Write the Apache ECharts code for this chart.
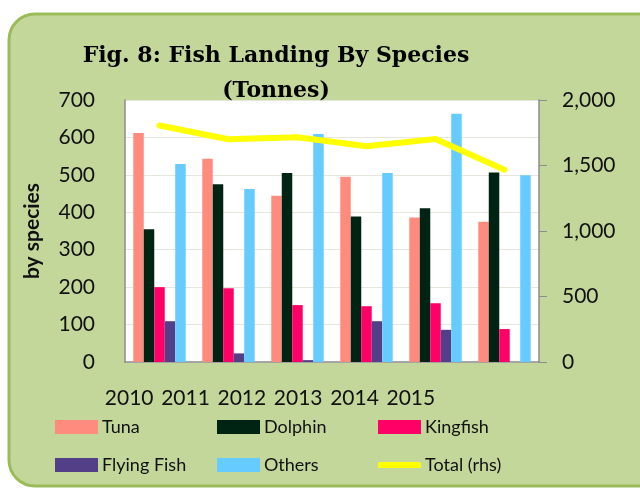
<!DOCTYPE html>
<html>
<head>
<meta charset="utf-8">
<script src="https://cdn.jsdelivr.net/npm/echarts@6/dist/echarts.min.js"></script>
<style>
  html, body { margin: 0; padding: 0; background: #fff; }
  #chart { width: 640px; height: 489px; }
</style>
</head>
<body>
<div id="chart"></div>
<script>
const years = ['2010', '2011', '2012', '2013', '2014', '2015']
const tuna = [612, 543, 444, 495, 386, 375]
const dolphin = [355, 475, 505, 389, 411, 506]
const kingfish = [200, 197, 152, 149, 157, 88]
const flyingFish = [109, 23, 5, 109, 86, 0]
const others = [529, 462, 609, 505, 663, 499]
const total = [1805, 1700, 1715, 1647, 1703, 1468]

const font = 'Lato'
const chart = echarts.init(document.getElementById('chart'))

const bar = (name, data, color) => ({
  name: name,
  type: 'bar',
  data: data,
  barGap: '0%',
  barCategoryGap: '24%',
  itemStyle: { color: color },
  emphasis: { disabled: true }
})

// one legend per entry so the three columns line up like the original
const legendAt = (name, left, top, extra) => Object.assign({
  data: [name],
  left: left,
  top: top,
  itemWidth: 43,
  itemHeight: 14,
  itemGap: 4,
  icon: 'rect',
  textStyle: { fontFamily: font, fontSize: 18, color: '#111', padding: [0, 0, 0, -1] }
}, extra || {})

chart.setOption({
  animation: false,
  graphic: [{
    type: 'rect',
    z: -10,
    shape: { x: 9, y: 14, width: 660, height: 472, r: 26 },
    style: { fill: '#c4d79b', stroke: '#9bbb59', lineWidth: 3 }
  }],
  title: {
    text: 'Fig. 8: Fish Landing By Species\n(Tonnes)',
    left: 271,
    top: 34,
    textAlign: 'center',
    textStyle: {
      fontFamily: 'DejaVu Serif',
      fontWeight: 'bold',
      fontSize: 22,
      lineHeight: 35,
      color: '#000'
    }
  },
  legend: [
    legendAt('Tuna', 50, 413),
    legendAt('Dolphin', 212, 413),
    legendAt('Kingfish', 373, 413),
    legendAt('Flying Fish', 50, 451),
    legendAt('Others', 212, 451),
    legendAt('Total (rhs)', 373, 451, { icon: 'roundRect', itemHeight: 6 })
  ],
  grid: [
    { left: 125, top: 100, width: 414, height: 262, backgroundColor: '#fff', show: true, borderWidth: 0 },
    { left: 101, top: 100, width: 338, height: 262 }
  ],
  xAxis: [{
    type: 'category',
    gridIndex: 0,
    data: years,
    axisLine: { lineStyle: { color: '#8c8c8c', width: 1.5 } },
    axisTick: { show: false },
    axisLabel: { show: false }
  }, {
    // the year labels sit a little left of the bars in the original
    type: 'category',
    gridIndex: 1,
    data: years,
    axisLine: { show: false },
    axisTick: { show: false },
    axisLabel: { fontFamily: font, fontSize: 21, color: '#111', margin: 26, interval: 0 }
  }],
  yAxis: [{
    type: 'value',
    gridIndex: 0,
    min: 0,
    max: 700,
    interval: 100,
    name: 'by species',
    nameLocation: 'middle',
    nameGap: 82,
    nameTextStyle: { fontFamily: font, fontSize: 21, fontWeight: 'bold', color: '#111' },
    axisLine: { show: true, lineStyle: { color: '#8c8c8c', width: 1.5 } },
    axisTick: { show: false },
    axisLabel: { fontFamily: font, fontSize: 21, color: '#111', margin: 30 },
    splitLine: { lineStyle: { color: '#e6e6dc', width: 1 } }
  }, {
    type: 'value',
    gridIndex: 0,
    position: 'right',
    min: 0,
    max: 2000,
    interval: 500,
    axisLine: { show: true, lineStyle: { color: '#8c8c8c', width: 1.5 } },
    axisTick: { show: true, inside: false, length: 8, lineStyle: { color: '#8c8c8c' } },
    axisLabel: {
      fontFamily: font, fontSize: 21, color: '#111', margin: 23,
      formatter: v => v.toLocaleString('en-US')
    },
    splitLine: { show: false }
  }, {
    type: 'value',
    gridIndex: 1,
    show: false
  }],
  series: [
    bar('Tuna', tuna, '#ff8b7f'),
    bar('Dolphin', dolphin, '#002414'),
    bar('Kingfish', kingfish, '#ff0066'),
    bar('Flying Fish', flyingFish, '#533f87'),
    bar('Others', others, '#66ccff'),
    {
      name: 'Total (rhs)',
      type: 'line',
      yAxisIndex: 1,
      data: total,
      symbol: 'none',
      z: 5,
      lineStyle: { color: '#ffff00', width: 6, cap: 'round' },
      itemStyle: { color: '#ffff00' },
      emphasis: { disabled: true }
    }
  ]
})
</script>
</body>
</html>
